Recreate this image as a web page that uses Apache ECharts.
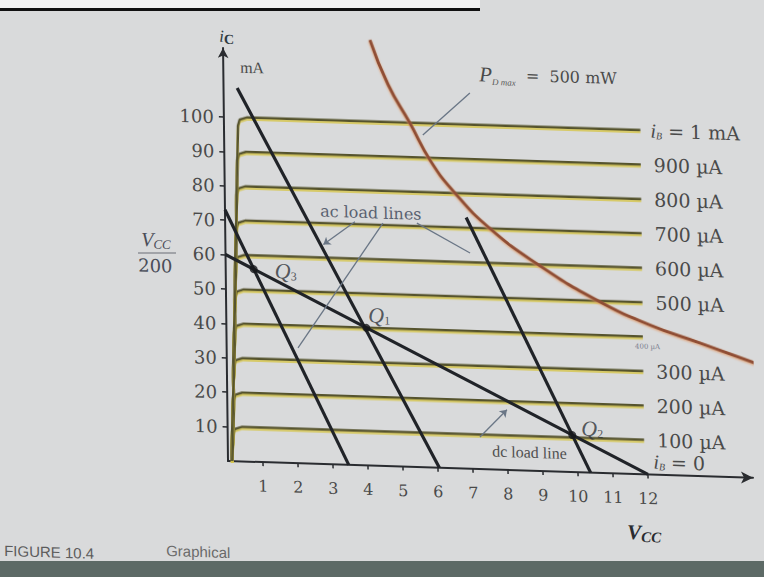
<!DOCTYPE html>
<html><head><meta charset="utf-8">
<script src="https://cdn.jsdelivr.net/npm/echarts@6/dist/echarts.min.js"></script>
<style>
html,body{margin:0;padding:0;background:#d9dadb;overflow:hidden;width:764px;height:577px}
#c{position:absolute;left:0;top:0;width:764px;height:577px;transform-origin:228px 461px;transform:matrix(1,0.032,0.012,1,0,0)}
.band{position:absolute}
</style>
</head><body>
<div class="band" style="left:0;top:0;width:480px;height:8px;background:#f2f2f2"></div>
<div class="band" style="left:0;top:8px;width:480px;height:3px;background:#111"></div>
<div class="band" style="left:0;top:561px;width:764px;height:16px;background:#5d6a66"></div>
<div id="c"></div>
<script>
// ---- data ----
const xTickValues = [1,2,3,4,5,6,7,8,9,10,11,12];          // V_CE (V)
const yTickValues = [10,20,30,40,50,60,70,80,90,100];        // i_C (mA)
const ibLevels = [0,10,20,30,40,50,60,70,80,90,100];          // i_C level of each i_B curve (mA)
const ibLabels = ['{i|i}{s|B}{n| = 0}','100 µA','200 µA','300 µA','400 µA','500 µA','600 µA','700 µA','800 µA','900 µA','{i|i}{s|B}{n| = 1 mA}'];
// knee + flat part of each collector characteristic
const ibCurves = [
  [[0.12,0],[11.9,0]],
  [[0.12,0],[0.15,7.5],[0.2,9.3],[0.4,10],[11.9,10]],
  [[0.12,0],[0.18,17.5],[0.23,19.3],[0.43,20],[11.9,20]],
  [[0.12,0],[0.2,27.5],[0.25,29.3],[0.45,30],[11.9,30]],
  [[0.12,0],[0.23,37.5],[0.28,39.3],[0.48,40],[11.9,40]],
  [[0.12,0],[0.26,47.5],[0.31,49.3],[0.51,50],[11.9,50]],
  [[0.12,0],[0.29,57.5],[0.34,59.3],[0.54,60],[11.9,60]],
  [[0.12,0],[0.32,67.5],[0.37,69.3],[0.57,70],[11.9,70]],
  [[0.12,0],[0.34,77.5],[0.39,79.3],[0.6,80],[11.9,80]],
  [[0.12,0],[0.37,87.5],[0.42,89.3],[0.62,90],[11.9,90]],
  [[0.12,0],[0.4,97.5],[0.45,99.3],[0.65,100],[11.9,100]]
];
const acLoadLines = [
  [[0,73],[3.45,0]],
  [[0.39,108.5],[6.04,0]],
  [[6.89,73],[10.36,0]]
];
const dcLoadLine = [[0,60],[12,0]];
const qNames = ['3','1','2'];
const qPoints = [[0.8,56],[4,40],[9.85,10.75]];
const pdMaxCurve = [[4.2,123.7],[4.7,111],[5.31,100],[5.9,89],[6.58,80],[7.57,70],[8.93,60],[10.63,50],[12.1,43.5],[13.53,38.7],[15.23,32.9]];
// annotation leader lines: [from, to, arrowAtEnd]
const leaders = [
  [[7.04,109.2],[5.68,96.6],false],
  [[3.71,70.7],[2.8,63.8],true],
  [[4.51,70.6],[2.04,33.5],false],
  [[5.48,70.9],[6.99,62.7],false],
  [[7.21,9.3],[7.99,17.5],true]
];

// photo shear applied to #c (see CSS); graphic positions are given in final pixels and un-sheared here
const SHB = 0.032, SHC = 0.012, OX = 228, OY = 461;
function pos(px, py){ const yy = py - SHB*(px-OX); return {x: px - SHC*(yy-OY), y: yy}; }

const serif = '"Liberation Serif", "DejaVu Serif", serif';
const wide = '"DejaVu Serif", serif';
const chart = echarts.init(document.getElementById('c'), null, {renderer:'svg'});

const labelTxt = '#4a4a4a';
const curveSeries = ibCurves.map((d,k)=>({
  type:'line', data:d, symbol:'none', z:2,
  lineStyle:{color:'#55522e', width:2.5, shadowColor:'rgba(214,198,78,0.8)', shadowBlur:1, shadowOffsetY:2},
  endLabel:{show:true, formatter:ibLabels[k], distance: k===4?0:(k===0||k===10?10:13),
    offset: k===4?[-8,10]:(k===0?[-1,-13]:[0,0]),
    fontFamily:wide, fontSize:k===4?7:19, color:k===4?'#7a8090':labelTxt,
    rich:{i:{fontStyle:'italic',fontSize:20,fontFamily:serif,color:labelTxt},
          s:{fontStyle:'italic',fontSize:10,fontFamily:serif,verticalAlign:'bottom',lineHeight:12,color:labelTxt},
          n:{fontSize:19,fontFamily:wide,color:labelTxt}}}
}));

const P = {
  ic: pos(219,26), mA: pos(240,59), vcc: pos(141,228), bar1: pos(138,253), bar2: pos(176,253),
  d200: pos(138,256), pd: pos(479,62), ac: pos(320,203), dc: pos(492,443), vccB: pos(627,520),
  fig: pos(4,543), gr: pos(166,543)
};

const option = {
  backgroundColor:'transparent',
  animation:false,
  grid:{left:228, right:11, top:48, bottom:116},
  xAxis:{type:'value', min:0, max:15, interval:1,
    axisLine:{onZero:false, lineStyle:{color:'#2a2c30', width:2}, symbol:['none','arrow'], symbolSize:[9,12]},
    axisTick:{show:true, customValues:xTickValues, length:4, lineStyle:{color:'#2a2c30',width:1.5}},
    axisLabel:{customValues:xTickValues, margin:16, fontFamily:wide, fontSize:16, color:'#4a4a4a'},
    splitLine:{show:false}},
  yAxis:{type:'value', min:0, max:120, interval:10,
    axisLine:{show:true, onZero:false, lineStyle:{color:'#2a2c30', width:2}, symbol:['none','arrow'], symbolSize:[8,10]},
    axisTick:{show:true, customValues:yTickValues, length:5, lineStyle:{color:'#2a2c30',width:1.5}},
    axisLabel:{customValues:yTickValues, margin:10, fontFamily:wide, fontSize:18, color:'#4a4a4a'},
    splitLine:{show:false}},
  series:[
    ...curveSeries,
    {type:'line', data:pdMaxCurve, symbol:'none', smooth:true, clip:false, z:3,
     lineStyle:{color:'#8f4e34', width:3, shadowColor:'rgba(225,150,100,0.85)', shadowBlur:2, shadowOffsetY:1}},
    ...acLoadLines.map(d=>({type:'line', data:d, symbol:'none', z:4, lineStyle:{color:'#202328', width:3.2}})),
    {type:'line', data:dcLoadLine, symbol:'none', z:4, lineStyle:{color:'#202328', width:3.2}},
    {type:'scatter', z:6, symbolSize:8, itemStyle:{color:'#15171a'},
     data:qPoints.map((p,k)=>({value:p, label:{show:true, position:'right',
        offset: k===0?[12,1]:(k===1?[-7,-13]:[0,-7]),
        formatter:'{q|Q}{s|'+qNames[k]+'}'}})),
     label:{rich:{q:{fontFamily:serif,fontStyle:'italic',fontSize:22,color:'#30343a'},
                  s:{fontFamily:serif,fontSize:12,color:'#30343a',verticalAlign:'bottom',lineHeight:13}}}},
    {type:'line', data:[], z:3,
     markLine:{silent:true, animation:false, symbolSize:7, label:{show:false},
       lineStyle:{color:'#6a7686', width:1.3, type:'solid'},
       data:leaders.map(l=>[{coord:l[0], symbol:'none'},{coord:l[1], symbol:l[2]?'arrow':'none'}])}}
  ],
  graphic:[
    {type:'text', x:P.ic.x, y:P.ic.y, style:{text:'{i|i}{s|C}', rich:{
        i:{fontFamily:serif,fontStyle:'italic',fontSize:17,fill:'#2e3a40',lineHeight:20},
        s:{fontFamily:serif,fontSize:14,fill:'#2e3a40',fontWeight:'bold',verticalAlign:'bottom',lineHeight:16}}}},
    {type:'text', x:P.mA.x, y:P.mA.y, style:{text:'mA', font:'16px '+serif, fill:'#4a4a4a'}},
    {type:'text', x:P.vcc.x, y:P.vcc.y, style:{text:'{v|V}{s|CC}', rich:{
        v:{fontFamily:serif,fontStyle:'italic',fontSize:20,fill:'#4a4d58',lineHeight:22},
        s:{fontFamily:serif,fontStyle:'italic',fontSize:13,fill:'#4a4d58',verticalAlign:'bottom',lineHeight:14}}}},
    {type:'line', shape:{x1:P.bar1.x,y1:P.bar1.y,x2:P.bar2.x,y2:P.bar2.y}, style:{stroke:'#6a6d76', lineWidth:1}},
    {type:'text', x:P.d200.x, y:P.d200.y, style:{text:'200', font:'18px '+wide, fill:'#4a4d58'}},
    {type:'text', x:P.pd.x, y:P.pd.y, style:{text:'{p|P}{s|D max}{t|  =  500 mW}', rich:{
        p:{fontFamily:serif,fontStyle:'italic',fontSize:21,fill:'#4a4a4a',lineHeight:24},
        s:{fontFamily:serif,fontStyle:'italic',fontSize:9,fill:'#5a5a5a',verticalAlign:'bottom',lineHeight:11},
        t:{fontFamily:wide,fontSize:16,fill:'#4a4a4a',lineHeight:24}}}},
    {type:'text', x:P.ac.x, y:P.ac.y, style:{text:'ac load lines', font:'16px '+wide, fill:'#5a6170'}},
    {type:'text', x:P.dc.x, y:P.dc.y, style:{text:'dc load line', font:'16px '+serif, fill:'#505050'}},
    {type:'text', x:P.vccB.x, y:P.vccB.y, style:{text:'{v|V}{s|CC}', rich:{
        v:{fontFamily:serif,fontStyle:'italic',fontWeight:'bold',fontSize:21,fill:'#2a2c30',lineHeight:24},
        s:{fontFamily:serif,fontStyle:'italic',fontWeight:'bold',fontSize:15,fill:'#2a2c30',verticalAlign:'bottom',lineHeight:16}}}},
    {type:'text', x:P.fig.x, y:P.fig.y, style:{text:'FIGURE 10.4', font:'15px "Liberation Sans", sans-serif', fill:'#5c5c5c'}},
    {type:'text', x:P.gr.x, y:P.gr.y, style:{text:'Graphical', font:'15px "Liberation Sans", sans-serif', fill:'#6a6a6a'}}
  ]
};
chart.setOption(option);
</script></body></html>
